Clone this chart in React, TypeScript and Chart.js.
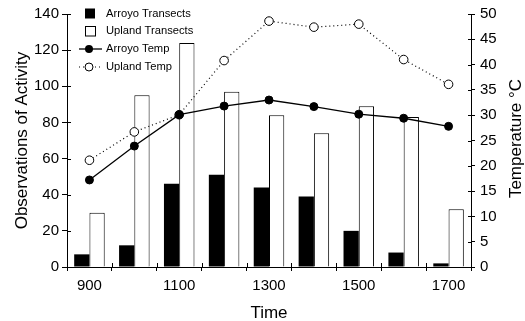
import { useEffect, useRef } from 'react';
import { Chart, registerables } from 'chart.js';

Chart.register(...registerables);

const categories = ['900', '1000', '1100', '1200', '1300', '1400', '1500', '1600', '1700'];
const arroyoTransects = [7, 12, 46, 51, 44, 39, 20, 8, 2];
const uplandTransects = [30, 95, 124, 97, 84, 74, 89, 83, 32];
const arroyoTemp = [17.2, 23.9, 30.1, 31.8, 33.0, 31.7, 30.2, 29.4, 27.8];
const uplandTemp = [21.1, 26.7, 30.1, 40.8, 48.6, 47.4, 48.0, 41.0, 36.1];
const obsMax = 140;
const obsStep = 20;
const tempMax = 50;
const tempStep = 5;
const xTitle = 'Time';
const yTitle = 'Observations of Activity';
const y2Title = 'Temperature °C';
const legendLabels = ['Arroyo Transects', 'Upland Transects', 'Arroyo Temp', 'Upland Temp'];

const FONT = '"Liberation Sans", Arial, Helvetica, sans-serif';

const decor = {
  id: 'decor',
  afterDraw(chart: any) {
    const ctx = chart.ctx as CanvasRenderingContext2D;
    const a = chart.chartArea;
    const ys = chart.scales.y;
    const y2s = chart.scales.y2;
    const xs = chart.scales.x;
    ctx.save();
    ctx.strokeStyle = '#000';
    ctx.lineWidth = 1;
    // inner halves of the cross ticks
    ctx.beginPath();
    ys.ticks.forEach((t: any) => {
      const p = Math.round(ys.getPixelForValue(t.value)) + 0.5;
      ctx.moveTo(a.left, p);
      ctx.lineTo(a.left + 4, p);
    });
    y2s.ticks.forEach((t: any) => {
      const p = Math.round(y2s.getPixelForValue(t.value)) + 0.5;
      ctx.moveTo(a.right, p);
      ctx.lineTo(a.right - 3, p);
    });
    const n = categories.length;
    for (let i = 0; i <= n; i++) {
      const px = Math.round(xs.getPixelForValue(i) - (xs.width / n) / 2) + 0.5;
      ctx.moveTo(px, a.bottom);
      ctx.lineTo(px, a.bottom - 4);
    }
    ctx.stroke();

    // axis titles
    ctx.fillStyle = '#000';
    ctx.font = `17px ${FONT}`;
    ctx.textAlign = 'center';
    ctx.textBaseline = 'alphabetic';
    ctx.save();
    ctx.translate(27, (a.top + a.bottom) / 2);
    ctx.rotate(-Math.PI / 2);
    ctx.fillText(yTitle, 0, 0);
    ctx.restore();
    ctx.save();
    ctx.translate(521, (a.top + a.bottom) / 2 - 2);
    ctx.rotate(-Math.PI / 2);
    ctx.fillText(y2Title, 0, 0);
    ctx.restore();
    ctx.fillText(xTitle, (a.left + a.right) / 2, 318);

    // legend
    const lx = a.left + 18;
    const tx = a.left + 39;
    const rows = [13.5, 31, 49, 67];
    ctx.fillStyle = '#000';
    ctx.fillRect(lx, rows[0] - 5, 10, 10);
    ctx.fillStyle = '#fff';
    ctx.fillRect(lx + 0.5, rows[1] - 4.5, 10, 9.5);
    ctx.strokeRect(lx + 0.5, rows[1] - 4.5, 10, 9.5);
    ctx.beginPath();
    ctx.lineWidth = 1.3;
    ctx.moveTo(lx - 6, rows[2]);
    ctx.lineTo(lx + 17, rows[2]);
    ctx.stroke();
    ctx.beginPath();
    ctx.fillStyle = '#000';
    ctx.arc(lx + 4, rows[2], 4, 0, Math.PI * 2);
    ctx.fill();
    ctx.beginPath();
    ctx.lineWidth = 1.2;
    ctx.setLineDash([1, 3]);
    ctx.moveTo(lx - 6, rows[3]);
    ctx.lineTo(lx + 17, rows[3]);
    ctx.stroke();
    ctx.setLineDash([]);
    ctx.beginPath();
    ctx.lineWidth = 1;
    ctx.fillStyle = '#fff';
    ctx.arc(lx + 4, rows[3], 4, 0, Math.PI * 2);
    ctx.fill();
    ctx.stroke();
    ctx.fillStyle = '#000';
    ctx.font = `11.2px ${FONT}`;
    ctx.textAlign = 'left';
    ctx.textBaseline = 'middle';
    legendLabels.forEach((l, i) => ctx.fillText(l, tx, rows[i]));
    ctx.restore();
  },
};

export default function App() {
  const ref = useRef<HTMLCanvasElement>(null);
  useEffect(() => {
    if (!ref.current) return;
    const chart = new Chart(ref.current, {
      type: 'bar',
      data: {
        labels: categories,
        datasets: [
          {
            type: 'line',
            label: legendLabels[2],
            data: arroyoTemp,
            yAxisID: 'y2',
            borderColor: '#000',
            borderWidth: 1.3,
            pointRadius: 4,
            pointBackgroundColor: '#000',
            pointBorderColor: '#000',
            pointBorderWidth: 1,
            tension: 0,
            order: 0,
          },
          {
            type: 'line',
            label: legendLabels[3],
            data: uplandTemp,
            yAxisID: 'y2',
            borderColor: '#000',
            borderWidth: 1.2,
            borderDash: [1, 3],
            pointRadius: 4.3,
            pointBackgroundColor: '#fff',
            pointBorderColor: '#000',
            pointBorderWidth: 1,
            tension: 0,
            order: 0,
          },
          {
            type: 'bar',
            label: legendLabels[0],
            data: arroyoTransects,
            yAxisID: 'y',
            backgroundColor: '#000',
            borderWidth: 0,
            categoryPercentage: 0.68,
            barPercentage: 1,
            order: 1,
          },
          {
            type: 'bar',
            label: legendLabels[1],
            data: uplandTransects,
            yAxisID: 'y',
            backgroundColor: '#fff',
            borderColor: '#000',
            borderWidth: 1,
            categoryPercentage: 0.68,
            barPercentage: 1,
            order: 1,
          },
        ] as any,
      },
      options: {
        responsive: false,
        maintainAspectRatio: false,
        animation: false,
        devicePixelRatio: 1,
        layout: { padding: { top: 13, left: 0, right: 0, bottom: 0 } },
        plugins: { legend: { display: false }, tooltip: { enabled: false }, title: { display: false } },
        scales: {
          x: {
            offset: true,
            grid: { offset: true, drawOnChartArea: false, drawTicks: true, tickLength: 4, color: '#000' },
            border: { display: true, color: '#000', width: 1 },
            ticks: {
              autoSkip: false,
              maxRotation: 0,
              color: '#000',
              padding: 6,
              font: { family: FONT, size: 15 },
              callback: function (this: any, v: any, i: number) {
                return i % 2 === 0 ? categories[i] : '';
              },
            },
            afterFit: (s: any) => {
              s.height = 54;
            },
          },
          y: {
            position: 'left',
            min: 0,
            max: obsMax,
            grid: { drawOnChartArea: false, drawTicks: true, tickLength: 5, color: '#000' },
            border: { display: true, color: '#000', width: 1 },
            ticks: { stepSize: obsStep, color: '#000', padding: 3, font: { family: FONT, size: 15 } },
            afterFit: (s: any) => {
              s.width = 67;
            },
          },
          y2: {
            position: 'right',
            min: 0,
            max: tempMax,
            grid: { drawOnChartArea: false, drawTicks: true, tickLength: 4, color: '#000' },
            border: { display: true, color: '#000', width: 1 },
            ticks: { stepSize: tempStep, color: '#000', padding: 5, font: { family: FONT, size: 15 } },
            afterFit: (s: any) => {
              s.width = 54;
            },
          },
        },
      } as any,
      plugins: [decor],
    });
    return () => chart.destroy();
  }, []);
  return (
    <div style={{ position: 'fixed', left: 0, top: 0, width: 525, height: 321, background: '#fff' }}>
      <canvas ref={ref} width={525} height={321} style={{ display: 'block' }} />
    </div>
  );
}
